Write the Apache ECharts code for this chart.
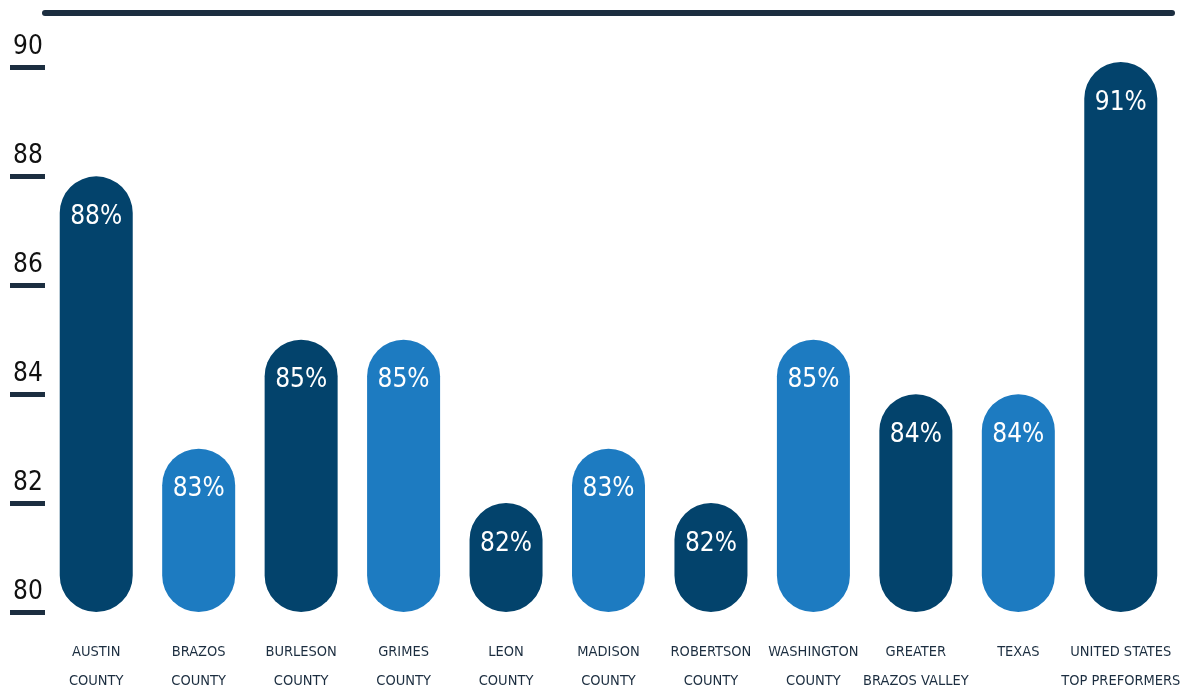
<!DOCTYPE html>
<html>
<head>
<meta charset="utf-8">
<script src="https://cdn.jsdelivr.net/npm/echarts@6/dist/echarts.min.js"></script>
<style>
html,body{margin:0;padding:0;background:#fff;}
#main{width:1182px;height:690px;}
</style>
</head>
<body>
<div id="main"></div>
<script>
var categories = ["AUSTIN\nCOUNTY","BRAZOS\nCOUNTY","BURLESON\nCOUNTY","GRIMES\nCOUNTY","LEON\nCOUNTY","MADISON\nCOUNTY","ROBERTSON\nCOUNTY","WASHINGTON\nCOUNTY","GREATER\nBRAZOS VALLEY","TEXAS","UNITED STATES\nTOP PREFORMERS"];
// printed percentages
var labels = [88, 83, 85, 85, 82, 83, 82, 85, 84, 84, 91];
// bar heights as drawn (US bar is drawn shorter than its label)
var heights = [88, 83, 85, 85, 82, 83, 82, 85, 84, 84, 90.1];
var yTicks = [80, 82, 84, 86, 88, 90];
var base = 80;

var dark = '#03436c';
var light = '#1d7bc1';
var ink = '#1c2e40';
var font = "'DejaVu Sans Condensed', 'Liberation Sans Narrow', sans-serif";

var myChart = echarts.init(document.getElementById('main'));

var option = {
    animation: false,
    grid: {
        left: 45,
        right: 10,
        top: 13,
        bottom: 78,
        outerBoundsMode: 'none'
    },
    xAxis: [
        {
            type: 'category',
            data: categories,
            axisLine: { show: false },
            axisTick: { show: false },
            axisLabel: {
                interval: 0,
                margin: 26,
                color: ink,
                fontFamily: font,
                fontSize: 14.5,
                lineHeight: 29,
                verticalAlign: 'top'
            }
        },
        {
            type: 'category',
            position: 'top',
            data: categories,
            axisLine: { show: true, lineStyle: { color: ink, width: 6 } },
            axisTick: { show: false },
            axisLabel: { show: false }
        }
    ],
    yAxis: {
        type: 'value',
        min: 80,
        max: 91,
        interval: 2,
        splitLine: { show: false },
        axisLine: { show: false },
        axisTick: {
            show: true,
            customValues: yTicks,
            length: 35,
            lineStyle: { color: ink, width: 5 }
        },
        axisLabel: {
            customValues: yTicks,
            margin: 17,
            align: 'center',
            verticalAlign: 'bottom',
            padding: [0, 0, 7, 0],
            color: '#111',
            fontFamily: font,
            fontSize: 26
        }
    },
    series: [
        {
            // invisible base up to the axis start, so the pills sit on 80
            type: 'bar',
            stack: 'pill',
            barWidth: 73,
            silent: true,
            itemStyle: { color: 'transparent' },
            data: heights.map(function () { return base; })
        },
        {
            type: 'bar',
            stack: 'pill',
            barWidth: 73,
            data: heights.map(function (v, i) {
                return {
                    value: v - base,
                    itemStyle: { color: i % 2 === 0 ? dark : light }
                };
            }),
            itemStyle: { borderRadius: 37 },
            label: {
                show: true,
                position: 'insideTop',
                distance: 28,
                color: '#fff',
                fontFamily: font,
                fontSize: 26,
                formatter: function (p) { return labels[p.dataIndex] + '%'; }
            }
        }
    ]
};

myChart.setOption(option);
</script>
</body>
</html>
